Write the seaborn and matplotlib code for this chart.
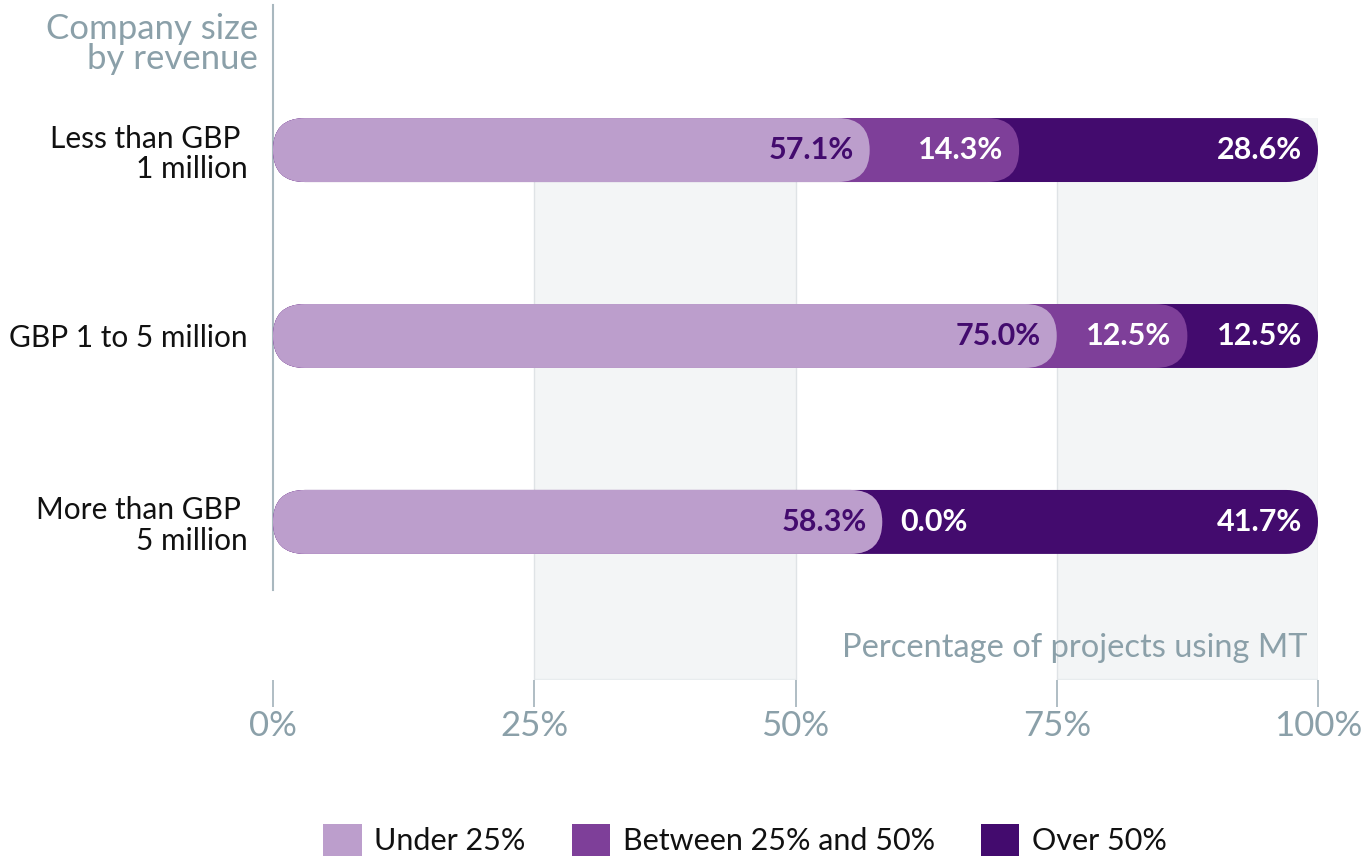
import numpy as np
import pandas as pd
import matplotlib
matplotlib.use("Agg")
import matplotlib.pyplot as plt
from matplotlib.patches import FancyBboxPatch, Patch
import seaborn as sns

# ---- data ----
categories = ["Less than GBP \n1 million", "GBP 1 to 5 million", "More than GBP \n5 million"]
series = ["Under 25%", "Between 25% and 50%", "Over 50%"]
under_25 = [57.1, 75.0, 58.3]
between_25_50 = [14.3, 12.5, 0.0]
over_50 = [28.6, 12.5, 41.7]
x_ticks = [0, 25, 50, 75, 100]
tick_labels = ["0%", "25%", "50%", "75%", "100%"]
y_title = "Company size\nby revenue"
x_title = "Percentage of projects using MT"

colors = ["#bc9ecc", "#7e3f99", "#430b6e"]
label_colors = ["#430b6e", "white", "white"]
grey_text = "#8ba0a9"
axis_grey = "#a9b8bf"

values = [under_25, between_25_50, over_50]
rows = []
for s, vals in zip(series, values):
    for c, v in zip(categories, vals):
        rows.append({"category": c, "series": s, "value": v})
df = pd.DataFrame(rows)
df["cum"] = df.groupby("category", sort=False)["value"].cumsum()

sns.set_theme(style="white")
plt.rcParams["font.family"] = ["Lato", "DejaVu Sans"]

fig = plt.figure(figsize=(13.67, 8.61), dpi=100)
ax = fig.add_axes([273 / 1367, 1 - 680 / 861, 1045 / 1367, 675 / 861])

bar_h = 0.344
# draw cumulative pills, largest first so smaller ones lie on top
for s, col in reversed(list(zip(series, colors))):
    sub = df[df["series"] == s]
    sns.barplot(data=sub, x="cum", y="category", order=categories, color=col,
                saturation=1, width=bar_h, orient="h", ax=ax, zorder=3)

y_top, y_bottom = -0.78, 2.85
ax.set_xlim(0, 100)
ax.set_ylim(y_bottom, y_top)

# convert rectangles into rounded pills
p0 = ax.transData.transform((0, 0))
px_per_x = ax.transData.transform((1, 0))[0] - p0[0]
px_per_y = abs(ax.transData.transform((0, 1))[1] - p0[1])
m = px_per_x / px_per_y
for rect in list(ax.patches):
    x0, y0, w, h = rect.get_x(), rect.get_y(), rect.get_width(), rect.get_height()
    fc = rect.get_facecolor()
    z = rect.get_zorder()
    rect.remove()
    r = h / m / 2
    pill = FancyBboxPatch((x0, y0), w, h, boxstyle=f"round,pad=0,rounding_size={r}",
                          mutation_aspect=m, fc=fc, ec="none", zorder=z)
    ax.add_patch(pill)

# background bands and grid lines
band_top = -bar_h / 2
for a, b in zip(x_ticks[1::2], x_ticks[2::2]):
    ax.fill_betweenx([band_top, y_bottom], a, b, color="#f3f5f6", lw=0, zorder=0)
    ax.hlines(y_bottom - 0.003, a, b, color="#e8ecee", lw=1, zorder=0.5)
ax.vlines(x_ticks[1:], band_top, y_bottom, color="#dfe3e6", lw=1, zorder=0.5)

# value labels
for i in range(len(categories)):
    cum = 0
    for k, vals in enumerate(values):
        v = vals[i]
        cum += v
        txt = f"{v:.1f}%"
        if v > 0:
            ax.text(cum - 1.5, i, txt, ha="right", va="center", fontsize=22,
                    fontweight="bold", color=label_colors[k], zorder=5)
        else:
            ax.text(cum + 1.7, i, txt, ha="left", va="center", fontsize=22,
                    fontweight="bold", color=label_colors[k], zorder=5)

# axes styling
for sp in ["top", "right", "bottom"]:
    ax.spines[sp].set_visible(False)
ax.spines["left"].set_color(axis_grey)
ax.spines["left"].set_linewidth(1.5)
ax.spines["left"].set_bounds(y_top, 2.366)
ax.set_xticks(x_ticks, tick_labels)
ax.tick_params(axis="x", direction="out", length=19.5, width=1.3, color=axis_grey,
               labelcolor=grey_text, labelsize=25, pad=2, bottom=True)
ax.tick_params(axis="y", length=0, pad=18, labelsize=21.5, labelcolor="#111111")
for lab in ax.get_yticklabels():
    lab.set_linespacing(1.1)
ax.set_xlabel("")
ax.set_ylabel("")
ax.grid(False)

ax.text((1308 - 273) / 1045, (680 - 648) / 675, x_title, transform=ax.transAxes,
        ha="right", va="center", fontsize=23.5, color=grey_text, zorder=6)
fig.text(258 / 1367, 1 - 44 / 861, y_title, ha="right", va="center", fontsize=25,
         color=grey_text, linespacing=0.92)

handles = [Patch(facecolor=c, edgecolor="none", label=s) for s, c in zip(series, colors)]
fig.legend(handles=handles, loc="center", bbox_to_anchor=(745 / 1367, 1 - 840 / 861),
           ncol=3, frameon=False, fontsize=22, handlelength=1.25, handleheight=1.25,
           handletextpad=0.42, columnspacing=1.5, labelcolor="#111111")

fig.savefig("out.png", dpi=100)
